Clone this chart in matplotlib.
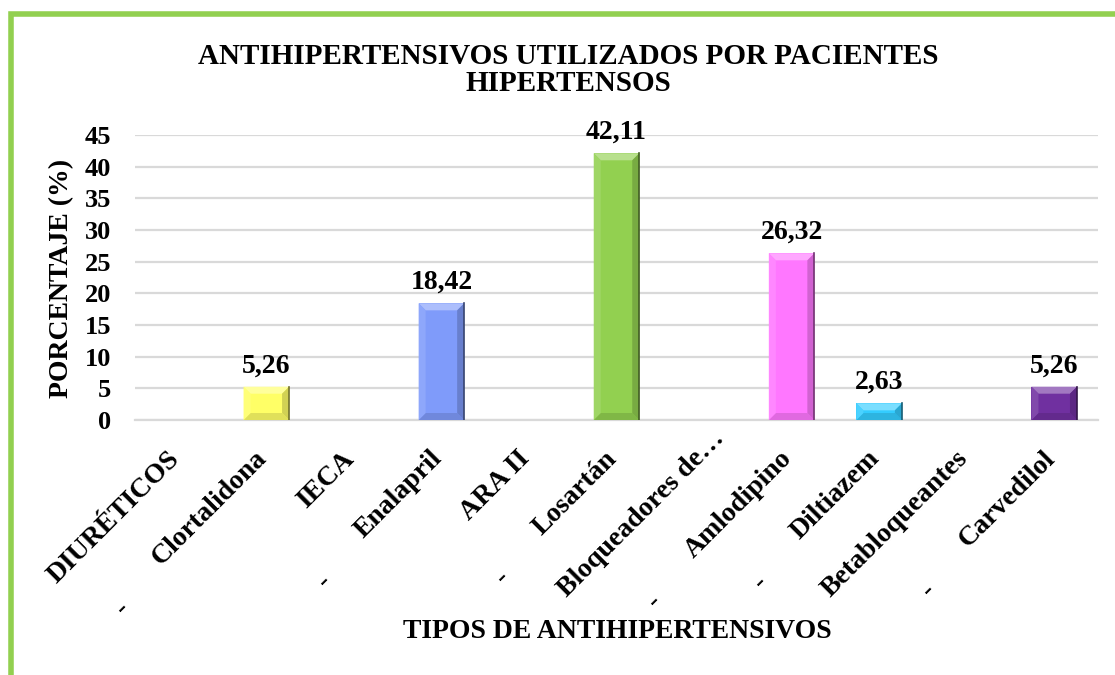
import matplotlib
matplotlib.use("Agg")
import matplotlib.pyplot as plt
from matplotlib.patches import Polygon, Rectangle
from matplotlib.colors import to_rgb
from matplotlib.transforms import ScaledTranslation
import numpy as np

categories = ["DIURÉTICOS", "Clortalidona", "IECA", "Enalapril", "ARA II", "Losartán",
              "Bloqueadores de…", "Amlodipino", "Diltiazem", "Betabloqueantes", "Carvedilol"]
has_dash = [False, True, False, True, False, True, False, True, True, False, True]
values = [0, 5.26, 0, 18.42, 0, 42.11, 0, 26.32, 2.63, 0, 5.26]
value_labels = ["", "5,26", "", "18,42", "", "42,11", "", "26,32", "2,63", "", "5,26"]
bar_colors = ["#FFFFFF", "#FFFF66", "#FFFFFF", "#7F9BFA", "#FFFFFF", "#92D050",
              "#FFFFFF", "#FF77FF", "#33CCFF", "#FFFFFF", "#7030A0"]
yticks = [0, 5, 10, 15, 20, 25, 30, 35, 40, 45]

title = "ANTIHIPERTENSIVOS UTILIZADOS POR PACIENTES\nHIPERTENSOS"
xlabel = "TIPOS DE ANTIHIPERTENSIVOS"
ylabel = "PORCENTAJE (%)"

plt.rcParams['font.family'] = ['Liberation Serif', 'DejaVu Serif']
plt.rcParams['font.weight'] = 'bold'

W, H = 1115, 675
fig = plt.figure(figsize=(W / 100, H / 100), dpi=100)
ax = fig.add_axes([135 / W, (H - 420) / H, (1098 - 135) / W, (420 - 135) / H])

x = np.arange(len(categories))
ax.set_xlim(-0.5, len(categories) - 0.5)
ax.set_ylim(0, 45)

# border
fig.patches.append(Rectangle((11 / W, -0.1), 1.2, (H - 14) / H + 0.1, transform=fig.transFigure,
                             fill=False, edgecolor="#92D050", linewidth=4, zorder=0))

def mix(c, t, amount):
    c = np.array(to_rgb(c)); t = np.array(to_rgb(t))
    return tuple(c + (t - c) * amount)

bw = 0.52
px_x = (1098 - 135) / len(categories)
px_y = (420 - 135) / 45.0
bev = 7.0
for xi, v, c in zip(x, values, bar_colors):
    if v <= 0:
        continue
    ax.bar(xi, v, width=bw, color=c, edgecolor="none", zorder=3)
    x0, x1 = xi - bw / 2, xi + bw / 2
    bx = bev / px_x
    by = min(bev / px_y, v / 2)
    polys = [
        ([(x0, v), (x1, v), (x1 - bx, v - by), (x0 + bx, v - by)], mix(c, "white", 0.35)),
        ([(x0, 0), (x1, 0), (x1 - bx, by), (x0 + bx, by)], mix(c, "black", 0.12)),
        ([(x0, 0), (x0, v), (x0 + bx, v - by), (x0 + bx, by)], mix(c, "white", 0.12)),
        ([(x1, 0), (x1, v), (x1 - bx, v - by), (x1 - bx, by)], mix(c, "black", 0.18)),
    ]
    for pts, col in polys:
        ax.add_patch(Polygon(pts, closed=True, facecolor=col, edgecolor="none", zorder=4))
    ax.plot([x1, x1], [0, v], color=mix(c, "black", 0.55), lw=1.2, zorder=5)

for xi, v, lab in zip(x, values, value_labels):
    if lab:
        ax.annotate(lab, xy=(xi, v), xytext=(0, 6), textcoords="offset points",
                    ha="center", va="bottom", fontsize=20, fontweight="bold", zorder=6)

ax.set_yticks(yticks)
ax.set_yticklabels([str(t) for t in yticks], fontsize=19, fontweight="bold")
ax.grid(axis="y", color="#D9D9D9", linewidth=1.6, zorder=0)
ax.set_axisbelow(True)
for s in ["top", "right", "left"]:
    ax.spines[s].set_visible(False)
ax.spines["bottom"].set_color("#D9D9D9")
ax.spines["bottom"].set_linewidth(1.6)
ax.tick_params(axis="both", length=0)
ax.tick_params(axis="y", pad=17)

TICK_FS = 20
ax.set_xticks(x)
ax.set_xticklabels(categories, rotation=45, ha="right", va="center", rotation_mode="anchor",
                   fontsize=TICK_FS, fontweight="bold")
ax.tick_params(axis="x", pad=0)

c45 = np.sqrt(0.5)
base_dx, base_dy = -3.0, -35.0  # pixel offset of label anchor from tick point (y up)
for t, name in zip(ax.get_xticklabels(), categories):
    extra = 28.0 if name.endswith("…") else 0.0
    dx = base_dx + extra * c45
    dy = base_dy + extra * c45
    t.set_transform(t.get_transform() + ScaledTranslation(dx / 100, dy / 100, fig.dpi_scale_trans))

# leading dashes of sub-items, placed just before the start of each label
renderer = fig.canvas.get_renderer()
gap, perp = 57.0, 8.0
for xi, name, d in zip(x, categories, has_dash):
    if not d:
        continue
    tmp = ax.text(0, 0, name, fontsize=TICK_FS, fontweight="bold")
    w = tmp.get_window_extent(renderer).width
    tmp.remove()
    along = w + gap
    px = base_dx - along * c45 + perp * c45
    py = base_dy - along * c45 - perp * c45
    ax.annotate("-", xy=(xi, 0), xycoords=("data", "axes fraction"),
                xytext=(px * 0.72, py * 0.72), textcoords="offset points",
                rotation=45, ha="center", va="center", fontsize=TICK_FS, fontweight="bold",
                annotation_clip=False)

fig.text(568 / W, 1 - 70 / H, title, ha="center", va="center", fontsize=21,
         fontweight="bold", linespacing=1.0)
fig.text(617 / W, 1 - 632 / H, xlabel, ha="center", va="center", fontsize=20, fontweight="bold")
fig.text(62 / W, 1 - 278 / H, ylabel, ha="center", va="center", rotation=90,
         fontsize=20, fontweight="bold")

fig.savefig("out.png", dpi=100)
